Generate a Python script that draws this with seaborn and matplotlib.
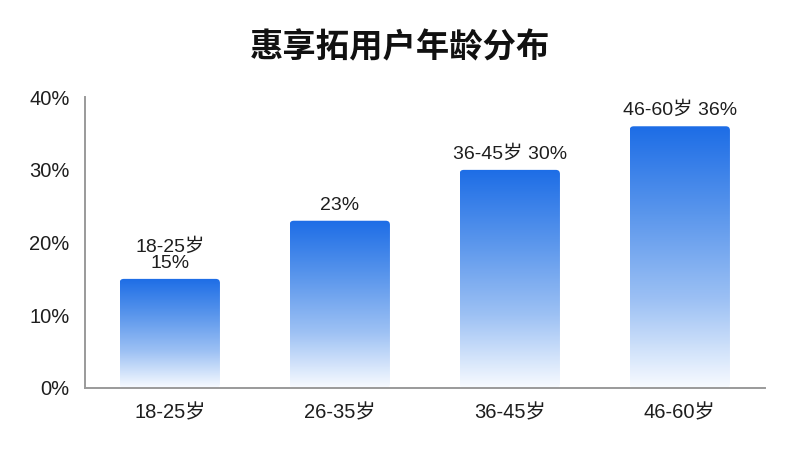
import matplotlib
matplotlib.use('Agg')
import matplotlib.pyplot as plt
import numpy as np
import pandas as pd
import seaborn as sns
from matplotlib.colors import LinearSegmentedColormap
from matplotlib.patches import FancyBboxPatch

# data
age_groups = ['18-25岁', '26-35岁', '36-45岁', '46-60岁']
share_pct = [15, 23, 30, 36]
y_ticks = [0, 10, 20, 30, 40]
title = '惠享拓用户年龄分布'

sns.set_style('white')
plt.rcParams['font.family'] = ['Liberation Sans', 'Noto Sans CJK SC', 'DejaVu Sans']

df = pd.DataFrame({'age': age_groups, 'share': share_pct})

fig = plt.figure(figsize=(8, 4.5), dpi=100)
ax = fig.add_axes([0.106, 0.138, 0.85, 0.646])

sns.barplot(data=df, x='age', y='share', ax=ax, width=0.59, color='#1f6fe6')

# vertical blue -> white gradient inside each bar, rounded top corners
cmap = LinearSegmentedColormap.from_list('bar', ['#f8fbff', '#9dc1f4', '#5a96ec', '#1d6de6'])
grad = np.linspace(0, 1, 256).reshape(-1, 1)
for p in ax.patches:
    x0, w, h = p.get_x(), p.get_width(), p.get_height()
    p.set_visible(False)
    shape = FancyBboxPatch((x0, 0), w, h,
                           boxstyle='round,pad=0,rounding_size=0.024',
                           mutation_aspect=23.4, facecolor='none',
                           edgecolor='none', transform=ax.transData)
    ax.add_patch(shape)
    im = ax.imshow(grad, cmap=cmap, origin='lower', aspect='auto',
                   extent=[x0, x0 + w, 0, h], zorder=2)
    im.set_clip_path(shape)

# value labels, laid out like the reference
labels = [f'{age_groups[0]}\n{share_pct[0]}%',
          f'{share_pct[1]}%',
          f'{age_groups[2]} {share_pct[2]}%',
          f'{age_groups[3]} {share_pct[3]}%']
for i, (lab, v) in enumerate(zip(labels, share_pct)):
    ax.annotate(lab, (i, v), xytext=(0, 5), textcoords='offset points',
                ha='center', va='bottom', fontsize=14, color='#1e1e1e',
                linespacing=0.9)

ax.set_xlim(-0.5, 3.5)
ax.set_ylim(0, 40)
ax.set_yticks(y_ticks)
ax.set_yticklabels([f'{t}%' for t in y_ticks])
ax.set_xlabel('')
ax.set_ylabel('')
ax.tick_params(axis='both', length=0, labelsize=14.5, colors='#1e1e1e')
ax.tick_params(axis='y', pad=11)
ax.tick_params(axis='x', pad=11)

sns.despine(ax=ax)
for s in ['left', 'bottom']:
    ax.spines[s].set_color('#9a9a9a')
    ax.spines[s].set_linewidth(1.4)

fig.suptitle(title, y=0.893, va='center', fontsize=24, fontweight='bold',
             color='#111111', family=['Noto Sans CJK SC', 'DejaVu Sans'])

fig.savefig('out.png', dpi=100, facecolor='white')
